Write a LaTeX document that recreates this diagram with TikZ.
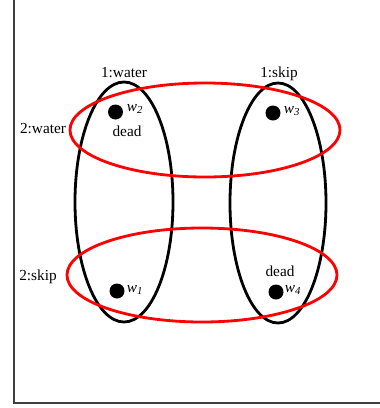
\documentclass[tikz,border=0pt]{standalone}
\usepackage{fontspec}
\setmainfont{Liberation Serif}
\usetikzlibrary{shapes.geometric}
\begin{document}
\begin{tikzpicture}[x=1pt,y=-1pt,
  world/.style={ellipse,draw=black,line width=2.8pt,inner sep=0pt},
  agent/.style={ellipse,draw=red,line width=2.8pt,inner sep=0pt},
  dot/.style={circle,fill=black,inner sep=0pt,minimum size=15pt},
  lbl/.style={inner sep=0pt,font=\fontsize{15.3}{17}\selectfont},
  wl/.style={inner sep=0pt,font=\fontsize{15.3}{17}\selectfont\itshape}]
\useasboundingbox (0,0) rectangle (380,408);
\draw[line width=2pt,color=black!75] (14,0) -- (14,403) -- (380,403);
% black ellipses
\node[world,minimum width=98pt,minimum height=240pt] (e1) at (124,202) {};
\node[world,minimum width=96pt,minimum height=240pt] (e2) at (278,203) {};
% red ellipses
\node[agent,minimum width=270pt,minimum height=94pt] (r1) at (205,130) {};
\node[agent,minimum width=270pt,minimum height=94pt] (r2) at (202,275) {};
% dots
\node[dot] (d2) at (115.5,112) {};
\node[dot] (d3) at (273,113) {};
\node[dot] (d1) at (117,291) {};
\node[dot] (d4) at (276,292) {};
% labels
\node[lbl] (l1w) at (124,73) {1:water};
\node[lbl] (l1s) at (279,74) {1:skip};
\node[lbl] (l2w) at (43,129) {2:water};
\node[lbl] (l2s) at (38,277) {2:skip};
\node[lbl] (dd1) at (127,131) {dead};
\node[lbl] (dd2) at (280,271) {dead};
\node[wl] (w2) at (135,109) {w\textsubscript{2}};
\node[wl] (w3) at (292,111) {w\textsubscript{3}};
\node[wl] (w1) at (135,290) {w\textsubscript{1}};
\node[wl] (w4) at (293,290) {w\textsubscript{4}};
\end{tikzpicture}
\end{document}
